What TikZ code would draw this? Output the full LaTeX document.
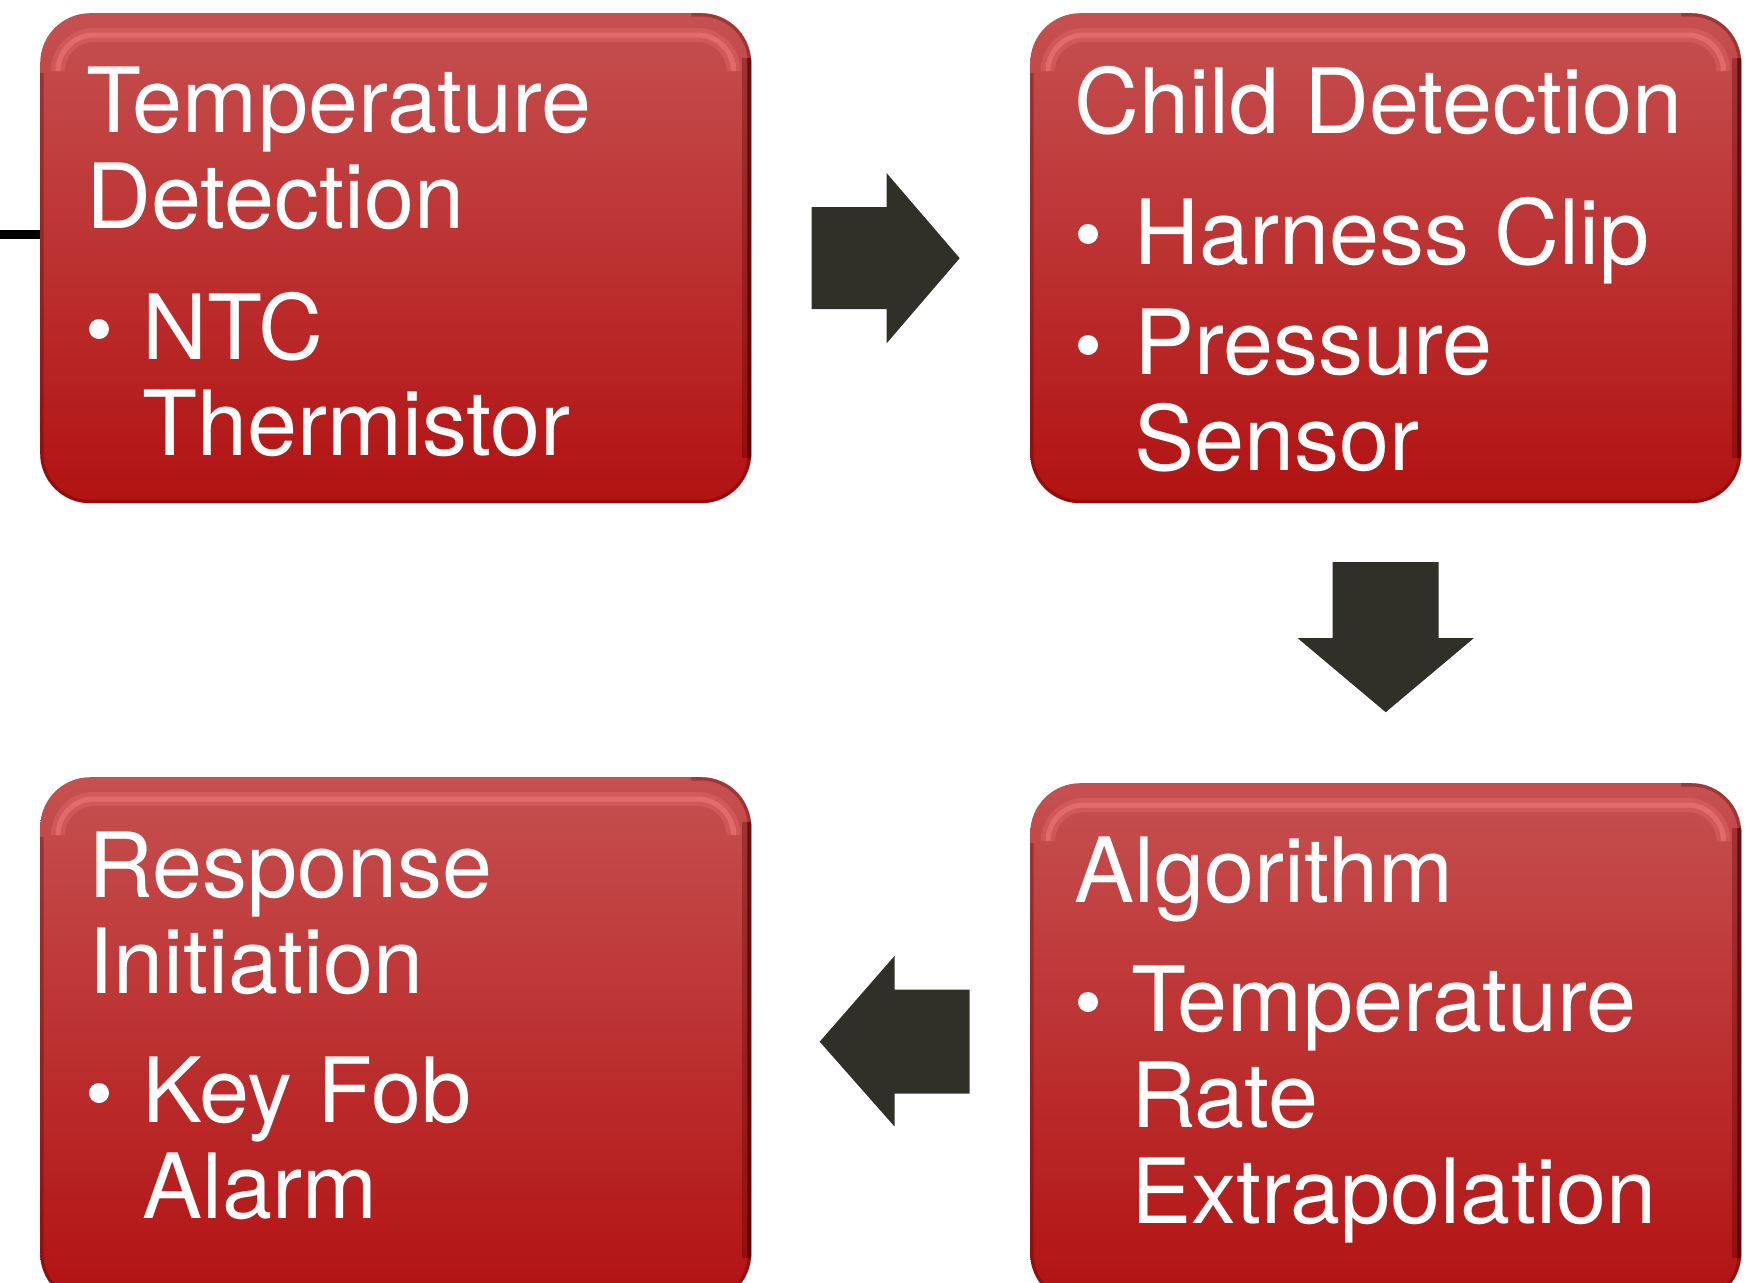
\documentclass[tikz,border=0pt]{standalone}
\usepackage{fontspec}
\setmainfont{TeX Gyre Heros}
\usetikzlibrary{calc}
\definecolor{boxtop}{RGB}{198,80,80}
\definecolor{boxmid}{RGB}{192,32,34}
\definecolor{boxbot}{RGB}{178,18,18}
\definecolor{arrowc}{RGB}{49,48,40}
\definecolor{glowc}{RGB}{255,135,135}
\definecolor{rimc}{RGB}{70,0,0}
\newcommand\boxfx[1]{%
  \begin{scope}
    \clip[rounded corners=50pt] (#1.north west) rectangle (#1.south east);
    \draw[glowc, line width=14pt, opacity=0.22, rounded corners=36pt]
      ($(#1.north west)+(18,50)$) |- ($(#1.north east)+(-18,22)$) -- ++(0,28);
    \draw[glowc, line width=5pt, opacity=0.4, rounded corners=36pt]
      ($(#1.north west)+(18,50)$) |- ($(#1.north east)+(-18,22)$) -- ++(0,28);
    \draw[rimc, line width=7pt, opacity=0.3, rounded corners=50pt]
      ($(#1.north west)+(0,60)$) |- (#1.south east) |- ($(#1.north east)+(-60,0)$);
    \draw[rimc, line width=18pt, opacity=0.3]
      ($(#1.north east)+(0,45)$) -- ($(#1.south east)+(0,-45)$);
    \draw[rimc, line width=8pt, opacity=0.5]
      ($(#1.north east)+(0,45)$) -- ($(#1.south east)+(0,-45)$);
  \end{scope}}
\begin{document}
\begin{tikzpicture}[x=1pt,y=-1pt,
  box/.style={rounded corners=50pt, top color=boxtop, middle color=boxmid,
    bottom color=boxbot, minimum width=711pt, minimum height=490pt,
    anchor=north west, inner sep=0pt, draw=none},
  txt/.style={text=white, font=\fontsize{90}{96}\selectfont, align=left,
    anchor=base west, inner sep=0pt},
  dot/.style={circle, fill=white, minimum size=20pt, inner sep=0pt},
  blk/.style={fill=arrowc, draw=none}]
\useasboundingbox (0,0) rectangle (1763,1282);
\clip (0,0) rectangle (1763,1282);

% boxes
\node[box] (td) at (40,13) {};
\node[box] (cd) at (1030,13) {};
\node[box, minimum height=526pt] (ri) at (40,777) {};
\node[box, minimum height=520pt] (al) at (1030,783) {};
\boxfx{td}\boxfx{cd}\boxfx{ri}\boxfx{al}

% texts (anchor = baseline of the last line)
\node[txt] (tdt) at (86,228) {Temperature\\Detection};
\node[dot] (tdb) at (99,329) {};
\node[txt] (tdi) at (142,455) {NTC\\Thermistor};

\node[txt] (cdt) at (1074,133) {Child Detection};
\node[dot] (cdb1) at (1088,234) {};
\node[txt] (cdi1) at (1134,264) {Harness Clip};
\node[dot] (cdb2) at (1088,345) {};
\node[txt] (cdi2) at (1134,470) {Pressure\\Sensor};

\node[txt] (rit) at (88,993) {Response\\Initiation};
\node[dot] (rib) at (99,1093) {};
\node[txt] (rii) at (142,1218) {Key Fob\\Alarm};

\node[txt] (alt) at (1074,902) {Algorithm};
\node[dot] (alb) at (1088,1002) {};
\node[txt] (ali) at (1131,1223) {Temperature\\Rate\\Extrapolation};

% left stub line
\coordinate (lin) at (0,234);
\draw[line width=9pt, black] (lin) -- (lin -| td.west);

% block arrows
\coordinate (c1) at ($(td.east)!0.5!(cd.west)$);
\fill[blk, shift={(c1)}] (-79,-51) -- (-4,-51) -- (-4,-85) -- (69,0) -- (-4,85) -- (-4,51) -- (-79,51) -- cycle;
\coordinate (c2) at ($(cd.south)!0.5!(al.north)$);
\fill[blk, shift={(c2)}] (-53,-81) -- (53,-81) -- (53,-5) -- (88,-5) -- (0,69) -- (-88,-5) -- (-53,-5) -- cycle;
\coordinate (c3) at ($(al.west)!0.5!(ri.east)$);
\fill[blk, shift={(c3)}] (79,-52) -- (4,-52) -- (4,-86) -- (-71,0) -- (4,85) -- (4,52) -- (79,52) -- cycle;
\end{tikzpicture}
\end{document}
